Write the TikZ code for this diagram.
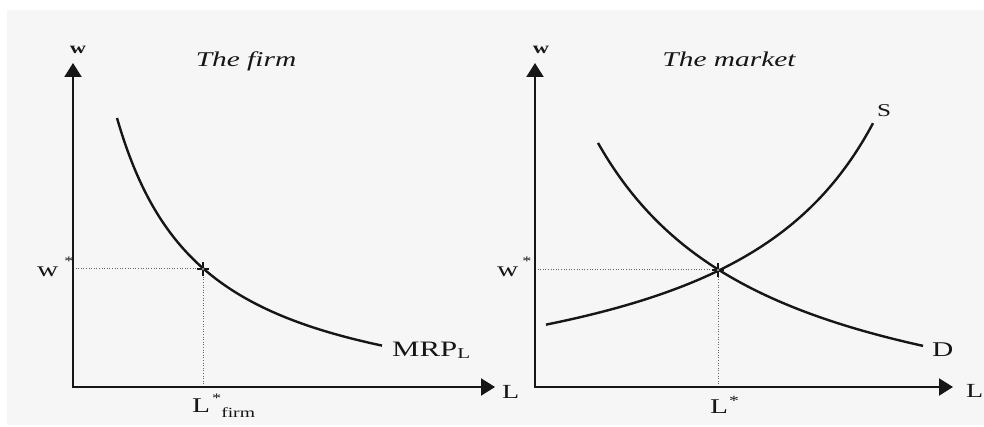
\documentclass[tikz,border=0pt]{standalone}
\usepackage{fontspec}
\setmainfont{Liberation Serif}[FakeStretch=1.4]
\usetikzlibrary{arrows.meta}
\definecolor{bg}{HTML}{F6F6F6}
\definecolor{ink}{HTML}{161616}
\definecolor{dotc}{HTML}{666666}
\newcommand{\fsz}[1]{\fontsize{#1}{#1}\selectfont}
\tikzset{
  axisline/.style={draw=ink, line width=2.2pt,
    {Triangle[length=14pt,width=17pt]}-{Triangle[length=14pt,width=17pt]}},
  curveline/.style={draw=ink, line width=2.4pt},
  guide/.style={draw=dotc, line width=1pt, dash pattern=on 1pt off 1.6pt},
  lbl/.style={text=ink, inner sep=0pt, anchor=base west},
  title/.style={text=ink, inner sep=0pt, anchor=base, font=\fsz{21}\itshape},
  axlbl/.style={text=ink, inner sep=0pt, anchor=base, font=\fsz{16}\bfseries},
  eqmark/.style={circle, fill=white, draw=ink, line width=0.8pt, inner sep=0pt, minimum size=3.5pt},
  armline/.style={draw=ink, line width=1.4pt},
}
\begin{document}
\begin{tikzpicture}[x=1pt,y=-1pt]
\useasboundingbox (0,0) rectangle (984,427);
\fill[bg] (7,10) rectangle (984,425);

% ---------- left panel: the firm ----------
\coordinate (O1) at (73,387);
\coordinate (Y1) at (73,63);
\coordinate (X1) at (495,387);
\coordinate (W1) at (73,269);
\coordinate (B1) at (203,387);
\node[axlbl] (w1) at (78,54) {w};
\node[title] (t1) at (246,67) {The firm};
\draw[guide] (W1) -- (203,269) -- (B1);
\draw[curveline] plot[domain=117:382, samples=120] (\x, {420.3 - 263/((\x-30)/100)});
\node[lbl, font=\fsz{21}] (ws1) at (37,277) {w\hspace{6pt}\raisebox{12pt}{\fsz{13}*}};
\node[lbl, font=\fsz{21}] (ls1) at (192,412) {L\hspace{2pt}\raisebox{10pt}{\fsz{13}*}\raisebox{-5pt}{\fsz{14}firm}};
\node[lbl, font=\fsz{22}] (mrp) at (392,356) {MRP\raisebox{-2pt}{\fsz{15}L}};
\node[lbl, font=\fsz{20}] (xl1) at (502,398) {L};
\draw[axisline] (Y1) -- (O1) -- (X1);
\node[eqmark] (E1) at (203,269) {};
\draw[armline] (E1.north) -- ++(0,-5);
\draw[armline] (E1.south) -- ++(0,5);
\draw[armline] (E1.west) -- ++(-4,0);
\draw[armline] (E1.east) -- ++(4,0);

% ---------- right panel: the market ----------
\coordinate (O2) at (535,387);
\coordinate (Y2) at (535,63);
\coordinate (X2) at (953,387);
\coordinate (W2) at (535,270);
\coordinate (B2) at (718,387);
\node[axlbl] (w2) at (541,54) {w};
\node[title] (t2) at (729,67) {The market};
\draw[guide] (W2) -- (718,270) -- (B2);
\draw[curveline] plot[domain=546:873, samples=120] (\x, {423.2 - 480/((1033-\x)/100)});
\draw[curveline] plot[domain=598:923, samples=120] (\x, {457 - 559/((\x-420)/100)});
\node[lbl, font=\fsz{21}] (ws2) at (497,277) {w\hspace{4pt}\raisebox{12pt}{\fsz{13}*}};
\node[lbl, font=\fsz{21}] (ls2) at (710,413) {L\hspace{1pt}\raisebox{8pt}{\fsz{14}*}};
\node[lbl, font=\fsz{18}] (sl) at (877,117) {S};
\node[lbl, font=\fsz{21}] (dl) at (932,356) {D};
\node[lbl, font=\fsz{20}] (xl2) at (966,397) {L};
\draw[axisline] (Y2) -- (O2) -- (X2);
\node[eqmark] (E2) at (718,270) {};
\draw[armline] (E2.north) -- ++(0,-5);
\draw[armline] (E2.south) -- ++(0,5);
\draw[armline] (E2.west) -- ++(-4,0);
\draw[armline] (E2.east) -- ++(4,0);
\end{tikzpicture}
\end{document}
